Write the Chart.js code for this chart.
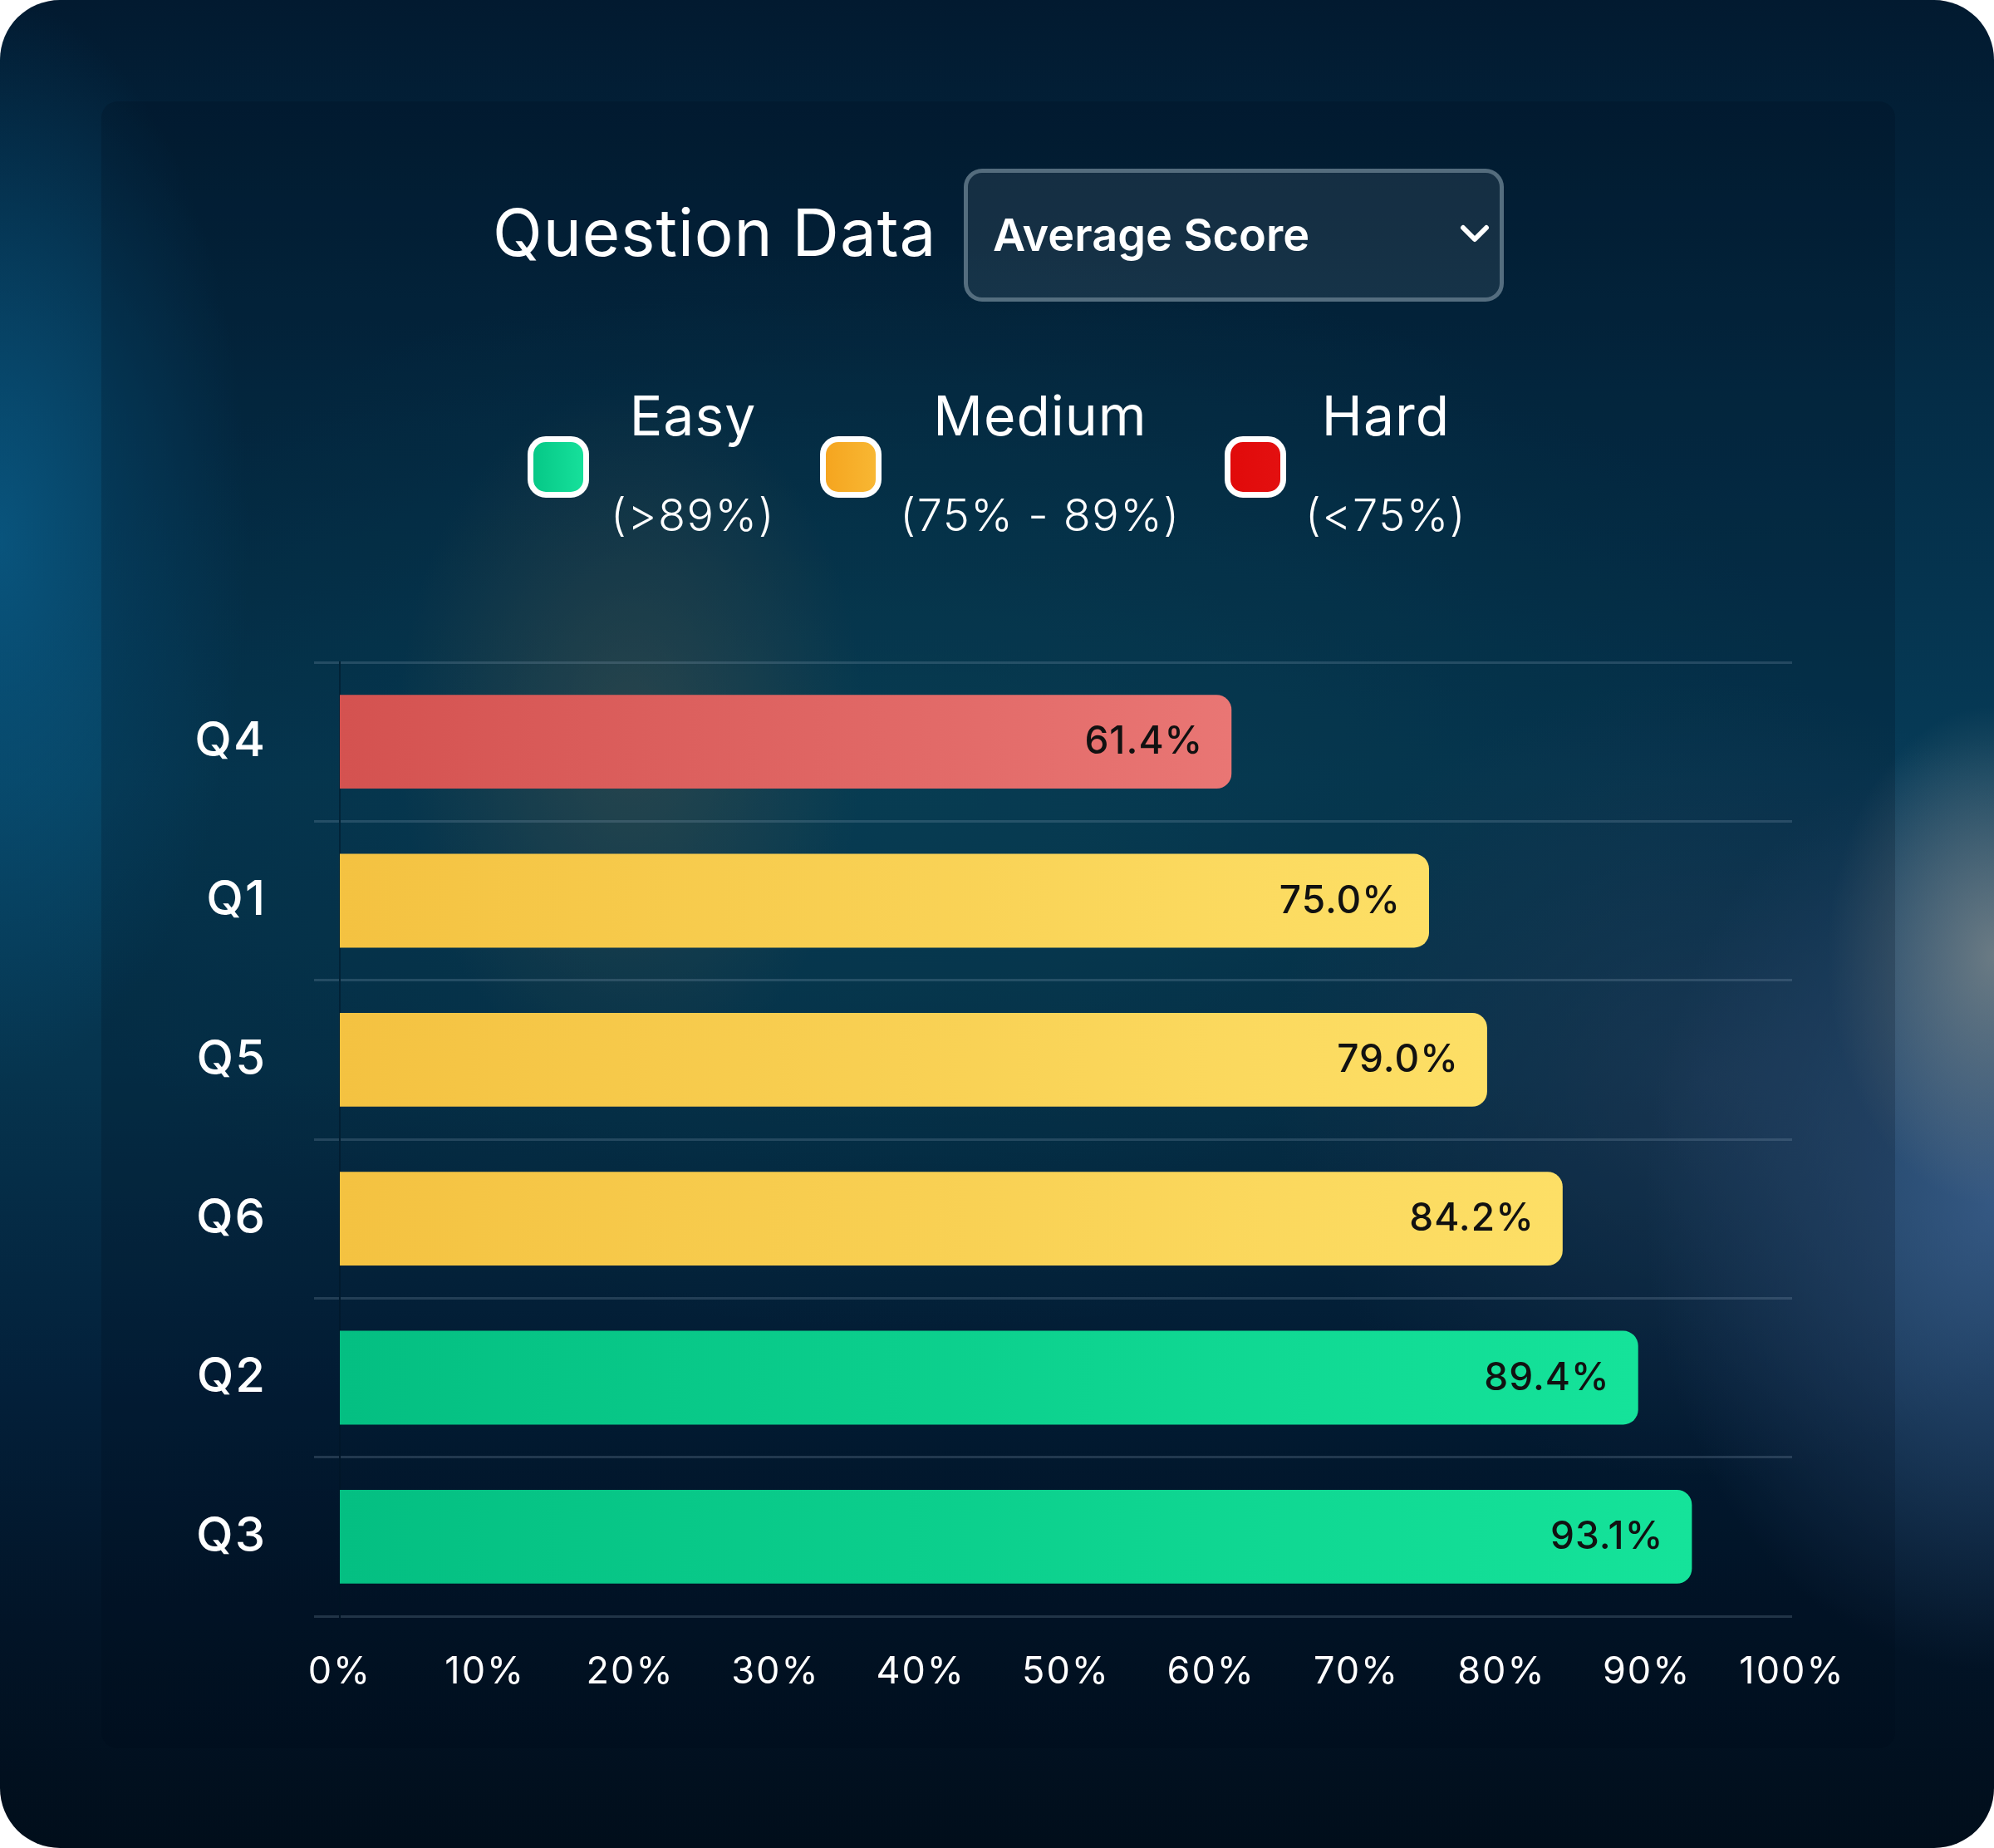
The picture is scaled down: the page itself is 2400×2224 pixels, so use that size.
<!DOCTYPE html>
<html>
<head>
<meta charset="utf-8">
<script src="https://cdn.jsdelivr.net/npm/chart.js@4.4.1/dist/chart.umd.min.js"></script>
<style>
    html, body {
        margin: 0;
        padding: 0;
        background: #ffffff;
        width: 2400px;
        height: 2224px;
        overflow: hidden;
        font-family: Inter, "Noto Sans", sans-serif;
    }
    .card {
        position: absolute;
        left: 0; top: 0;
        width: 2400px; height: 2224px;
        border-radius: 72px;
        overflow: hidden;
        background:
            radial-gradient(ellipse 200px 300px at 2400px 1150px, rgba(125,135,138,0.8), rgba(125,135,138,0) 100%),
            radial-gradient(ellipse 420px 560px at 2400px 1450px, rgba(60,95,140,0.85), rgba(60,95,140,0) 100%),
            radial-gradient(ellipse 520px 480px at 2050px 1300px, rgba(50,75,110,0.55), rgba(50,75,110,0) 100%),
            radial-gradient(ellipse 300px 650px at 0px 650px, rgba(10,95,140,0.75), rgba(10,95,140,0) 100%),
            radial-gradient(ellipse 280px 420px at 760px 880px, rgba(130,115,85,0.35), rgba(130,115,85,0) 100%),
            radial-gradient(ellipse 1100px 650px at 1100px 950px, rgba(12,85,105,0.55), rgba(12,85,105,0) 100%),
            linear-gradient(180deg, #021a30 0%, #042d47 22%, #063b57 42%, #06344e 58%, #03203a 75%, #021427 88%, #010e1b 100%);
    }
    .panel {
        position: absolute;
        left: 122px; top: 122px;
        width: 2159px; height: 1982px;
        border-radius: 20px;
        background: rgba(0, 12, 24, 0.2);
    }
    .title {
        position: absolute;
        left: 593px; top: 236px;
        font-size: 78px;
        line-height: 88px;
        color: #ffffff;
        font-weight: 400;
        letter-spacing: 1px;
        z-index: 3;
    }
    .select {
        position: absolute;
        left: 1160px; top: 203px;
        width: 640px; height: 150px;
        border: 5px solid rgba(105, 130, 145, 0.75);
        border-radius: 22px;
        background: rgba(255, 255, 255, 0.08);
        z-index: 3;
    }
    .select span {
        position: absolute;
        left: 30px; top: 44px;
        font-size: 54px;
        line-height: 62px;
        font-weight: 600;
        color: #ffffff;
    }
    .select svg {
        position: absolute;
        left: 592px; top: 61px;
    }
    .swatch {
        position: absolute;
        width: 60px; height: 60px;
        border: 7px solid #ffffff;
        border-radius: 22px;
        z-index: 3;
    }
    .lab {
        position: absolute;
        width: 500px;
        text-align: center;
        color: #ffffff;
        z-index: 3;
    }
    .lab .main {
        font-size: 66px;
        line-height: 76px;
        font-weight: 400;
        letter-spacing: 1px;
    }
    .lab .sub {
        margin-top: 51px;
        font-size: 54px;
        line-height: 62px;
        font-weight: 300;
        letter-spacing: 1.5px;
    }
    #chart {
        position: absolute;
        left: 0; top: 0;
        z-index: 2;
    }
</style>
</head>
<body>
<div class="card"><div class="panel"></div></div>

<div class="title">Question Data</div>
<div class="select">
    <span>Average Score</span>
    <svg width="36" height="24" viewBox="0 0 36 24">
        <polyline points="4,5 18,19 32,5" fill="none" stroke="#ffffff" stroke-width="6" stroke-linecap="round" stroke-linejoin="round"/>
    </svg>
</div>

<div id="legend"></div>

<canvas id="chart" width="2400" height="2224"></canvas>

<script>
// question data (sorted ascending, as shown)
const questions = ['Q4', 'Q1', 'Q5', 'Q6', 'Q2', 'Q3'];
const avgScores = [61.4, 75.0, 79.0, 84.2, 89.4, 93.1];

// difficulty bands
const bandNames = ['Easy', 'Medium', 'Hard'];
const bandRanges = ['(>89%)', '(75% - 89%)', '(<75%)'];
const bandMin = [89, 75, 0];
const bandSwatch = [
    ['#06c887', '#16e09b'],
    ['#f5a51f', '#f8b733'],
    ['#e10a0a', '#e31010']
];
const bandBar = [
    ['#04bf82', '#15e39a'],
    ['#f4c241', '#fddf66'],
    ['#d45250', '#e97674']
];

// x axis ticks
const xTicks = [0, 10, 20, 30, 40, 50, 60, 70, 80, 90, 100];

function bandOf(value) {
    if (value > bandMin[0]) return 0;
    if (value >= bandMin[1]) return 1;
    return 2;
}

// legend markup
const swatchLeft = [635, 987, 1474];
const labelCenter = [834, 1252, 1668];
const legend = document.getElementById('legend');
bandNames.forEach(function(name, i) {
    const sw = document.createElement('div');
    sw.className = 'swatch';
    sw.style.left = swatchLeft[i] + 'px';
    sw.style.top = '525px';
    sw.style.background = 'linear-gradient(90deg, ' + bandSwatch[i][0] + ', ' + bandSwatch[i][1] + ')';
    legend.appendChild(sw);

    const lab = document.createElement('div');
    lab.className = 'lab';
    lab.style.left = (labelCenter[i] - 250) + 'px';
    lab.style.top = '462px';
    lab.innerHTML = '<div class="main">' + name + '</div><div class="sub">' + bandRanges[i] + '</div>';
    legend.appendChild(lab);
});

// value labels at the end of each bar
const valueLabels = {
    id: 'valueLabels',
    afterDatasetsDraw: function(chart) {
        const ctx = chart.ctx;
        const meta = chart.getDatasetMeta(0);
        ctx.save();
        ctx.font = '500 46px Inter';
        ctx.letterSpacing = '1px';
        ctx.fillStyle = '#111111';
        ctx.textAlign = 'right';
        ctx.textBaseline = 'middle';
        meta.data.forEach(function(bar, i) {
            ctx.fillText(avgScores[i].toFixed(1) + '%', bar.x - 34, bar.y + 1);
        });
        ctx.restore();
    }
};

// slightly wider letter spacing for axis text
const spacing = {
    id: 'spacing',
    beforeDraw: function(chart) {
        chart.ctx.letterSpacing = '2px';
    }
};

new Chart('chart', {
    type: 'bar',
    data: {
        labels: questions,
        datasets: [{
            label: 'Average Score',
            data: avgScores,
            backgroundColor: function(context) {
                const chart = context.chart;
                if (!chart.chartArea || context.raw === undefined) return bandBar[0][0];
                const x = chart.scales.x;
                const colors = bandBar[bandOf(context.raw)];
                const g = chart.ctx.createLinearGradient(x.getPixelForValue(0), 0, x.getPixelForValue(context.raw), 0);
                g.addColorStop(0, colors[0]);
                g.addColorStop(1, colors[1]);
                return g;
            },
            borderWidth: 0,
            borderRadius: 18,
            borderSkipped: 'start',
            barPercentage: 0.59,
            categoryPercentage: 1
        }]
    },
    options: {
        indexAxis: 'y',
        responsive: false,
        devicePixelRatio: 1,
        animation: false,
        layout: {
            padding: { left: 0, top: 797, right: 243, bottom: 179 }
        },
        plugins: {
            legend: { display: false },
            tooltip: { enabled: false }
        },
        scales: {
            x: {
                min: 0,
                max: 100,
                afterFit: function(scale) { scale.height = 100; },
                afterBuildTicks: function(scale) {
                    scale.ticks = xTicks.map(v => ({ value: v }));
                },
                grid: { display: false },
                border: { display: false },
                ticks: {
                    color: '#ffffff',
                    padding: 32,
                    font: { family: 'Inter', size: 45, weight: 400 },
                    callback: function(value) { return value + '%'; }
                }
            },
            y: {
                afterFit: function(scale) { scale.width = 409; },
                grid: {
                    color: 'rgba(150, 175, 195, 0.22)',
                    lineWidth: 3,
                    tickLength: 31,
                    offset: true
                },
                border: {
                    display: true,
                    color: 'rgba(0, 20, 35, 0.5)',
                    width: 2
                },
                ticks: {
                    color: '#ffffff',
                    padding: 57,
                    font: { family: 'Inter', size: 58, weight: 500 }
                }
            }
        }
    },
    plugins: [spacing, valueLabels]
});
</script>
</body>
</html>
